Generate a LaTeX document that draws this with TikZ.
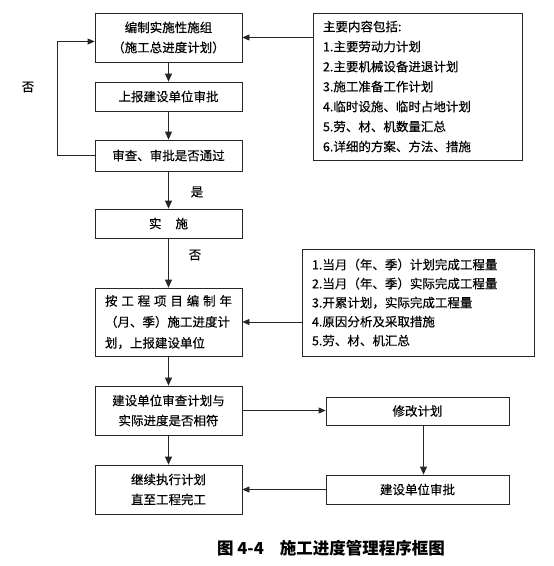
\documentclass[tikz,border=0pt]{standalone}
\usepackage{fontspec}
\setmainfont{Noto Sans CJK SC}
\newfontfamily\bodyfont{Noto Sans CJK SC}[FakeBold=0.3]
\usetikzlibrary{arrows.meta,positioning}
\tikzset{
  box/.style={draw=black!85, line width=0.8pt, rectangle, inner sep=0pt, align=center, font=\bodyfont\fontsize{12.5}{20}\selectfont},
  leftbox/.style={box, align=left, inner xsep=10pt},
  arr/.style={draw=black!85, line width=0.8pt, -{Triangle[length=8pt,width=7pt]}},
  harr/.style={draw=black!85, line width=0.8pt, -{Triangle[length=7pt,width=6pt]}},
  lbl/.style={font=\bodyfont\fontsize{12.5}{15}\selectfont, inner sep=0pt}
}
\begin{document}
\begin{tikzpicture}[x=1pt,y=-1pt]
\useasboundingbox (0,0) rectangle (554,566);
% left column
\node[box, minimum width=147pt, minimum height=49pt] (b1) at (168.5,37.5) {编制实施性施组\\（施工总进度计划）};
\node[box, minimum width=147pt, minimum height=29pt] (b2) at (168.5,96.5) {上报建设单位审批};
\node[box, minimum width=147pt, minimum height=31pt] (b3) at (168.5,155.5) {审查、审批是否通过};
\node[box, minimum width=147pt, minimum height=29pt] (b4) at (168.5,223.5) {实\hspace{14pt}施};
\node[box, minimum width=147pt, minimum height=68pt, align=left, font=\bodyfont\fontsize{12.5}{21}\selectfont] (b5) at (168.5,322) {\makebox[127pt][l]{按\hfill 工\hfill 程\hfill 项\hfill 目\hfill 编\hfill 制\hfill 年}\\\makebox[127pt][l]{（月、季）施工进度计}\\\makebox[127pt][l]{划，上报建设单位}};
\node[box, minimum width=147pt, minimum height=49pt] (b6) at (168.5,410.5) {建设单位审查计划与\\实际进度是否相符};
\node[box, minimum width=147pt, minimum height=49pt] (b7) at (168.5,489.5) {继续执行计划\\直至工程完工};
% right column
\node[leftbox, text width=189pt, minimum height=147pt] (r1) at (417.5,86.5) {主要内容包括:\\1.主要劳动力计划\\2.主要机械设备进退计划\\3.施工准备工作计划\\4.临时设施、临时占地计划\\5.劳、材、机数量汇总\\6.详细的方案、方法、措施};
\node[leftbox, text width=212pt, minimum height=107pt, font=\bodyfont\fontsize{12.5}{19}\selectfont] (r2) at (418,302.5) {1.当月（年、季）计划完成工程量\\2.当月（年、季）实际完成工程量\\3.开累计划，实际完成工程量\\4.原因分析及采取措施\\5.劳、材、机汇总};
\node[box, minimum width=183pt, minimum height=28pt] (m1) at (417.5,411) {修改计划};
\node[box, minimum width=183pt, minimum height=29pt] (m2) at (417.5,489.5) {建设单位审批};
% labels
\node[lbl] (no1) at (28,87) {否};
\node[lbl] (yes1) at (197,192) {是};
\node[lbl] (no2) at (195,255) {否};
\node[font=\fontsize{16.5}{20}\selectfont\bfseries, inner sep=0pt] (cap) at (331,548) {图 4-4\hspace{16pt}施工进度管理程序框图};
% connectors
\draw[arr] (b1) -- (b2);
\draw[arr] (b2) -- (b3);
\draw[arr] (b3) -- (b4);
\draw[arr] (b4) -- (b5);
\draw[arr] (b5) -- (b6);
\draw[arr] (b6) -- (b7);
\draw[harr] (b3.west) -- ++(-37,0) coordinate (lp) |- ([yshift=-4pt]b1.west);
\draw[harr] (r1.west |- b1.east) -- (b1.east);
\draw[harr] (r2.west |- b5.east) -- (b5.east);
\draw[harr] (b6.east) -- (m1.west |- b6.east);
\draw[arr] ([xshift=6pt]m1.south) -- ([xshift=6pt]m2.north);
\draw[harr] (m2.west) -- (b7.east |- m2.west);
\end{tikzpicture}
\end{document}
